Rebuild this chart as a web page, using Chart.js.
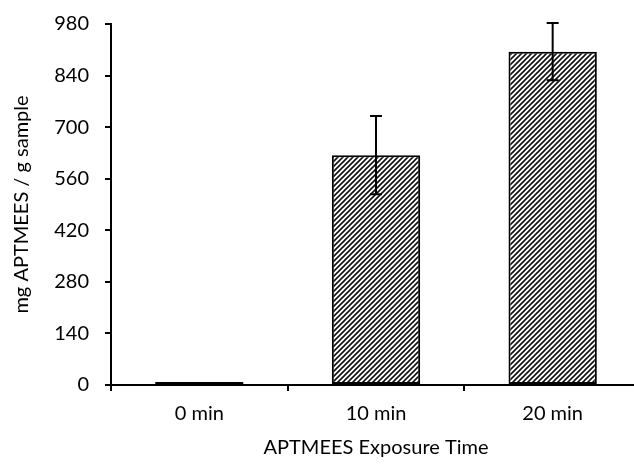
<!DOCTYPE html>
<html>
<head>
<meta charset="utf-8">
<script src="https://cdn.jsdelivr.net/npm/chart.js@4.4.1/dist/chart.umd.min.js"></script>
<style>
    html, body { margin: 0; padding: 0; background: #fff; overflow: hidden; }
    #wrap { width: 660px; height: 464px; }
</style>
</head>
<body>
<div id="wrap"><canvas id="chart" width="660" height="464"></canvas></div>
<script>
// Data
const categories = ['0 min', '10 min', '20 min'];
const loading = [0, 624, 905];
const loadingErr = [0, 106, 78];
const yTicks = [0, 140, 280, 420, 560, 700, 840, 980];

const FONT = 'Lato, "Open Sans", sans-serif';

// diagonal hatch fill like the original
function makeHatch() {
    const s = 5;
    const c = document.createElement('canvas');
    c.width = s;
    c.height = s;
    const g = c.getContext('2d');
    g.fillStyle = '#fff';
    g.fillRect(0, 0, s, s);
    g.strokeStyle = '#111';
    g.lineWidth = 1.6;
    g.beginPath();
    g.moveTo(-1, s + 1); g.lineTo(s + 1, -1);
    g.moveTo(-1, 1); g.lineTo(1, -1);
    g.moveTo(s - 1, s + 1); g.lineTo(s + 1, s - 1);
    g.stroke();
    return g.createPattern(c, 'repeat');
}

// error bars drawn from the loadingErr array
const errorBars = {
    id: 'errorBars',
    afterDatasetsDraw(chart) {
        const ctx = chart.ctx;
        const y = chart.scales.y;
        const meta = chart.getDatasetMeta(0);
        ctx.save();
        ctx.strokeStyle = '#000';
        ctx.lineWidth = 2;
        meta.data.forEach((bar, i) => {
            const err = loadingErr[i];
            if (!err) return;
            const x = bar.x;
            const top = y.getPixelForValue(loading[i] + err);
            const bot = y.getPixelForValue(loading[i] - err);
            ctx.beginPath();
            ctx.moveTo(x, top); ctx.lineTo(x, bot);
            ctx.moveTo(x - 6, top); ctx.lineTo(x + 6, top);
            ctx.moveTo(x - 6, bot); ctx.lineTo(x + 6, bot);
            ctx.stroke();
        });
        ctx.restore();
    }
};

const ctx = document.getElementById('chart').getContext('2d');
new Chart(ctx, {
    type: 'bar',
    data: {
        labels: categories,
        datasets: [{
            data: loading,
            backgroundColor: makeHatch(),
            borderColor: '#000',
            borderWidth: 2,
            borderSkipped: false,
            minBarLength: 3,
            barPercentage: 0.5,
            categoryPercentage: 1.0
        }]
    },
    options: {
        responsive: false,
        animation: false,
        layout: { padding: { left: 0, top: 24, right: 19, bottom: 0 } },
        plugins: {
            legend: { display: false },
            tooltip: { enabled: false }
        },
        scales: {
            x: {
                afterFit: (scale) => {
                    scale.height = 79;
                    scale.paddingLeft = 0;
                    scale.paddingRight = 0;
                },
                grid: {
                    display: true,
                    offset: true,
                    drawOnChartArea: false,
                    drawTicks: true,
                    tickLength: 6,
                    color: '#000',
                    lineWidth: 2
                },
                border: { display: true, color: '#000', width: 2 },
                ticks: {
                    color: '#000',
                    padding: 11,
                    font: { family: FONT, size: 20 }
                },
                title: {
                    display: true,
                    text: 'APTMEES Exposure Time',
                    color: '#000',
                    padding: { top: 0, bottom: 4 },
                    font: { family: FONT, size: 20 }
                }
            },
            y: {
                min: 0,
                max: 980,
                afterFit: (scale) => {
                    scale.width = 111;
                    scale.paddingTop = 0;
                    scale.paddingBottom = 0;
                },
                afterBuildTicks: (scale) => {
                    scale.ticks = yTicks.map(v => ({ value: v }));
                },
                grid: {
                    display: true,
                    drawOnChartArea: false,
                    drawTicks: true,
                    tickLength: 6,
                    color: '#000',
                    lineWidth: 2
                },
                border: { display: true, color: '#000', width: 2 },
                ticks: {
                    color: '#000',
                    padding: 16,
                    font: { family: FONT, size: 20 }
                },
                title: {
                    display: true,
                    text: 'mg APTMEES / g sample',
                    color: '#000',
                    padding: { top: 10, bottom: 0 },
                    font: { family: FONT, size: 20 }
                }
            }
        }
    },
    plugins: [errorBars]
});
</script>
</body>
</html>
